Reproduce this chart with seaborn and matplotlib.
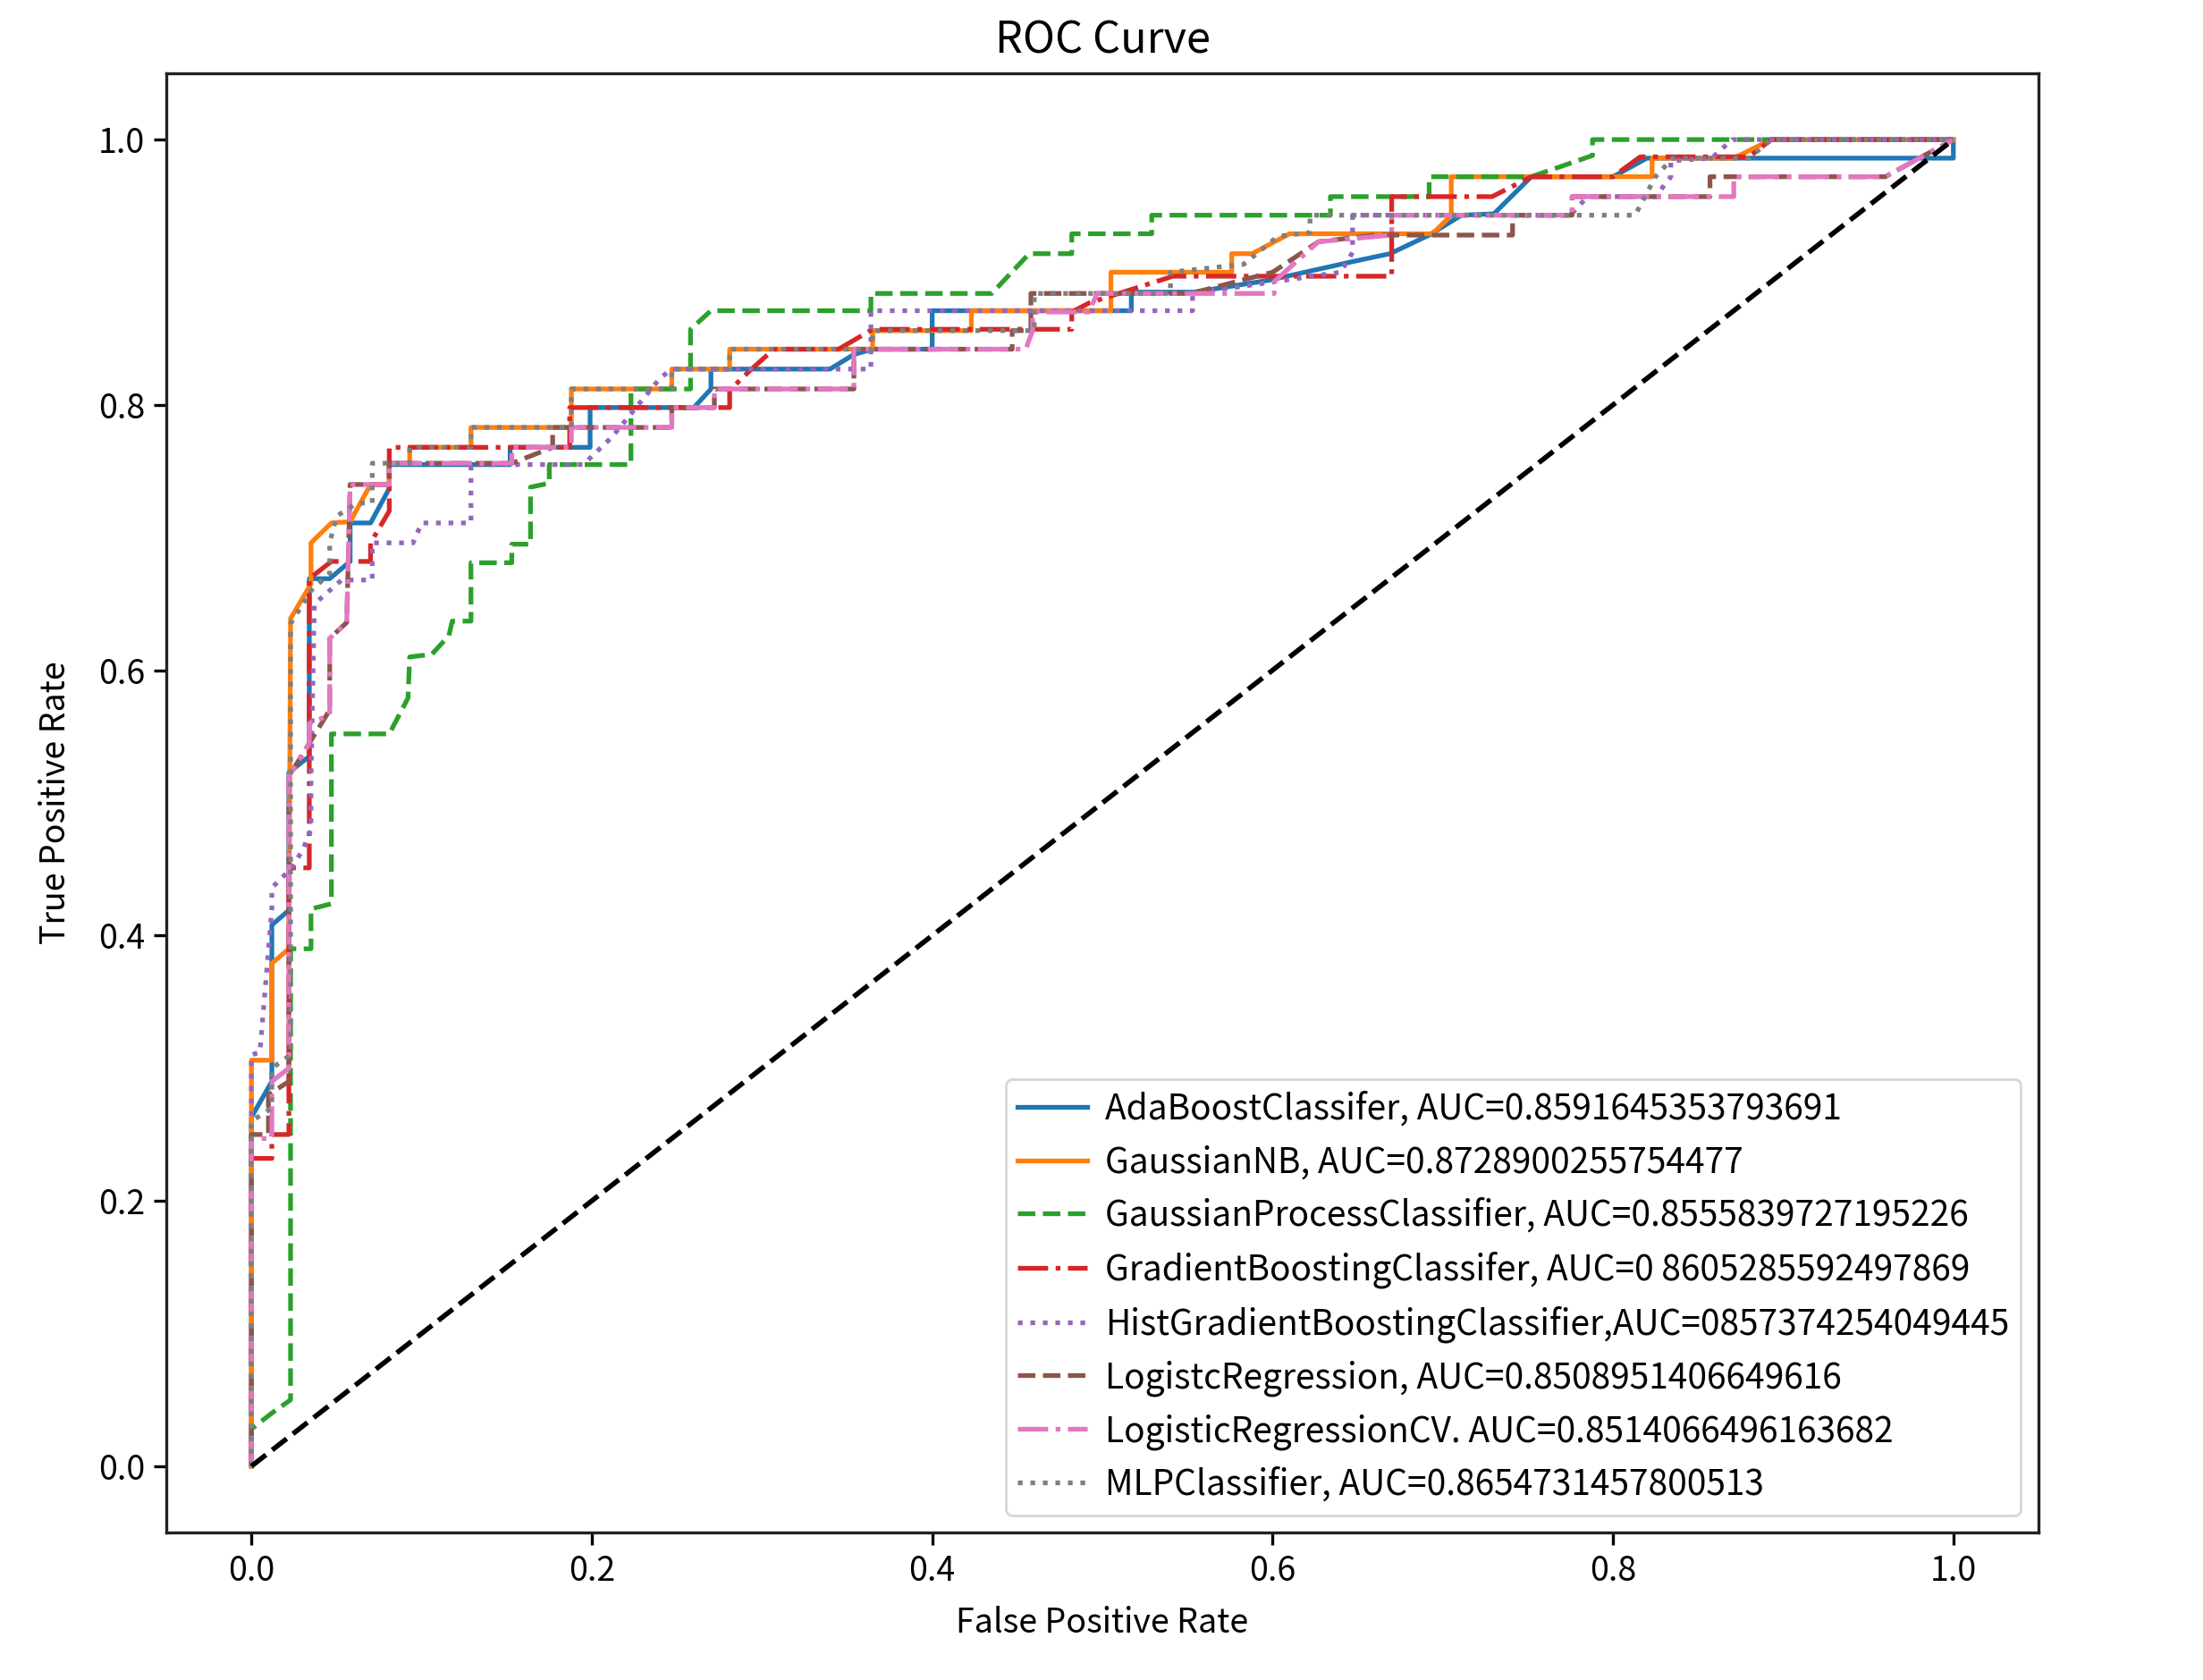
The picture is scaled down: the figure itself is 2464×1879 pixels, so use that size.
import pandas as pd
import matplotlib
matplotlib.use("Agg")
import matplotlib.pyplot as plt
import seaborn as sns

# ---------------- Data ----------------
ada_fpr = [0, 0, 0.012, 0.012, 0.022, 0.022, 0.034, 0.034, 0.046, 0.058, 0.058, 0.07, 0.081, 0.081,
           0.152, 0.152, 0.199, 0.199, 0.26, 0.27, 0.27, 0.34, 0.354, 0.365, 0.4, 0.4, 0.517, 0.517,
           0.554, 0.598, 0.647, 0.669, 0.692, 0.711, 0.73, 0.752, 0.8, 0.82, 1.0, 1.0]
ada_tpr = [0, 0.263, 0.29, 0.408, 0.419, 0.523, 0.535, 0.669, 0.669, 0.682, 0.711, 0.711, 0.737, 0.755,
           0.755, 0.768, 0.768, 0.798, 0.798, 0.812, 0.827, 0.827, 0.838, 0.842, 0.842, 0.871, 0.871, 0.885,
           0.885, 0.894, 0.908, 0.914, 0.928, 0.943, 0.944, 0.972, 0.972, 0.986, 0.986, 1.0]

gnb_fpr = [0, 0, 0.012, 0.012, 0.022, 0.023, 0.035, 0.035, 0.047, 0.058, 0.07, 0.081, 0.081, 0.093,
           0.093, 0.129, 0.129, 0.188, 0.188, 0.247, 0.247, 0.281, 0.281, 0.365, 0.365, 0.423, 0.423,
           0.505, 0.505, 0.576, 0.576, 0.588, 0.61, 0.694, 0.705, 0.705, 0.823, 0.823, 0.871, 0.893, 1.0]
gnb_tpr = [0, 0.306, 0.306, 0.379, 0.39, 0.639, 0.665, 0.696, 0.711, 0.712, 0.74, 0.74, 0.756, 0.756,
           0.768, 0.768, 0.783, 0.783, 0.812, 0.812, 0.827, 0.827, 0.842, 0.842, 0.856, 0.856, 0.871,
           0.871, 0.9, 0.9, 0.914, 0.914, 0.929, 0.929, 0.943, 0.972, 0.972, 0.986, 0.986, 1.0, 1.0]

gpc_fpr = [0, 0, 0.012, 0.023, 0.023, 0.035, 0.035, 0.047, 0.047, 0.081, 0.092, 0.093, 0.106, 0.116,
           0.118, 0.129, 0.129, 0.153, 0.153, 0.164, 0.164, 0.175, 0.175, 0.223, 0.223, 0.258, 0.258,
           0.27, 0.364, 0.364, 0.435, 0.457, 0.482, 0.482, 0.529, 0.529, 0.634, 0.634, 0.692, 0.692,
           0.752, 0.788, 0.788, 1.0]
gpc_tpr = [0, 0.028, 0.04, 0.05, 0.39, 0.39, 0.42, 0.424, 0.552, 0.552, 0.579, 0.61, 0.612, 0.626,
           0.637, 0.637, 0.681, 0.681, 0.695, 0.695, 0.738, 0.741, 0.755, 0.755, 0.812, 0.812, 0.857,
           0.871, 0.871, 0.884, 0.884, 0.914, 0.914, 0.929, 0.929, 0.943, 0.943, 0.957, 0.957, 0.972,
           0.972, 0.988, 1.0, 1.0]

gb_fpr = [0, 0, 0.012, 0.012, 0.022, 0.022, 0.034, 0.034, 0.047, 0.07, 0.07, 0.081, 0.081, 0.187,
          0.187, 0.281, 0.281, 0.293, 0.307, 0.345, 0.365, 0.482, 0.482, 0.4925, 0.5415, 0.67, 0.67,
          0.729, 0.752, 0.8, 0.816, 0.88, 0.893, 1.0]
gb_tpr = [0, 0.232, 0.232, 0.25, 0.25, 0.451, 0.451, 0.669, 0.682, 0.682, 0.696, 0.72, 0.768, 0.768,
          0.798, 0.798, 0.811, 0.826, 0.842, 0.842, 0.857, 0.857, 0.87, 0.877, 0.897, 0.897, 0.957,
          0.957, 0.972, 0.972, 0.987, 0.987, 1.0, 1.0]

hgb_fpr = [0, 0, 0.005, 0.012, 0.012, 0.023, 0.03, 0.035, 0.035, 0.037, 0.053, 0.071, 0.071, 0.095,
           0.1, 0.129, 0.129, 0.195, 0.212, 0.24, 0.247, 0.364, 0.364, 0.553, 0.553, 0.64, 0.647, 0.647,
           0.775, 0.785, 0.825, 0.834, 0.834, 0.858, 0.87, 1.0]
hgb_tpr = [0, 0.31, 0.312, 0.42, 0.436, 0.45, 0.464, 0.48, 0.52, 0.65, 0.668, 0.668, 0.696, 0.696,
           0.711, 0.711, 0.755, 0.755, 0.776, 0.82, 0.827, 0.827, 0.871, 0.871, 0.884, 0.9, 0.915, 0.943,
           0.943, 0.957, 0.957, 0.972, 0.984, 0.986, 1.0, 1.0]

lr_fpr = [0, 0, 0.01, 0.01, 0.022, 0.022, 0.034, 0.046, 0.046, 0.056, 0.058, 0.081, 0.081, 0.153,
          0.177, 0.177, 0.247, 0.247, 0.272, 0.272, 0.354, 0.354, 0.447, 0.447, 0.458, 0.458, 0.552,
          0.6, 0.627, 0.66, 0.741, 0.741, 0.776, 0.776, 0.857, 0.857, 0.96, 1.0]
lr_tpr = [0, 0.25, 0.25, 0.28, 0.29, 0.52, 0.545, 0.57, 0.624, 0.636, 0.74, 0.74, 0.756, 0.756,
          0.768, 0.783, 0.783, 0.798, 0.798, 0.812, 0.812, 0.842, 0.842, 0.856, 0.856, 0.884, 0.884,
          0.9, 0.923, 0.928, 0.928, 0.943, 0.943, 0.957, 0.957, 0.972, 0.972, 1.0]

lrcv_fpr = [0, 0, 0.012, 0.012, 0.022, 0.022, 0.034, 0.034, 0.046, 0.046, 0.056, 0.058, 0.081, 0.081,
            0.153, 0.153, 0.188, 0.188, 0.247, 0.247, 0.272, 0.272, 0.354, 0.354, 0.455, 0.459, 0.459,
            0.492, 0.497, 0.601, 0.601, 0.627, 0.67, 0.67, 0.776, 0.776, 0.871, 0.871, 0.96, 1.0]
lrcv_tpr = [0, 0.247, 0.247, 0.29, 0.30, 0.52, 0.545, 0.56, 0.566, 0.624, 0.636, 0.74, 0.74, 0.756,
            0.756, 0.768, 0.768, 0.783, 0.783, 0.798, 0.798, 0.812, 0.812, 0.842, 0.842, 0.856, 0.87,
            0.87, 0.884, 0.884, 0.893, 0.923, 0.928, 0.943, 0.943, 0.957, 0.957, 0.972, 0.972, 1.0]

mlp_fpr = [0, 0, 0.012, 0.012, 0.023, 0.023, 0.035, 0.046, 0.046, 0.05, 0.062, 0.071, 0.071, 0.093,
           0.093, 0.129, 0.129, 0.188, 0.188, 0.247, 0.247, 0.281, 0.281, 0.365, 0.365, 0.46, 0.46,
           0.54, 0.54, 0.583, 0.603, 0.622, 0.622, 0.813, 0.825, 0.835, 0.88, 0.893, 1.0]
mlp_tpr = [0, 0.26, 0.27, 0.3, 0.31, 0.635, 0.66, 0.673, 0.696, 0.716, 0.726, 0.726, 0.756, 0.756,
           0.768, 0.768, 0.783, 0.783, 0.812, 0.812, 0.827, 0.827, 0.842, 0.842, 0.856, 0.856, 0.884,
           0.884, 0.9, 0.906, 0.927, 0.93, 0.943, 0.943, 0.972, 0.986, 0.986, 1.0, 1.0]

labels = [
    "AdaBoostClassifer, AUC=0.8591645353793691",
    "GaussianNB, AUC=0.8728900255754477",
    "GaussianProcessClassifier, AUC=0.8555839727195226",
    "GradientBoostingClassifer, AUC=0 8605285592497869",
    "HistGradientBoostingClassifier,AUC=0857374254049445",
    "LogistcRegression, AUC=0.8508951406649616",
    "LogisticRegressionCV. AUC=0.8514066496163682",
    "MLPClassifier, AUC=0.8654731457800513",
]
curves = [(ada_fpr, ada_tpr), (gnb_fpr, gnb_tpr), (gpc_fpr, gpc_tpr), (gb_fpr, gb_tpr),
          (hgb_fpr, hgb_tpr), (lr_fpr, lr_tpr), (lrcv_fpr, lrcv_tpr), (mlp_fpr, mlp_tpr)]
styles = ["-", "-", "--", "-.", ":", "--", "-.", ":"]
colors = sns.color_palette("tab10", 8)

# ---------------- Plot ----------------
plt.rcParams["font.family"] = ["Noto Sans CJK SC", "DejaVu Sans"]
plt.rcParams["axes.edgecolor"] = "#222222"
plt.rcParams["axes.linewidth"] = 1.2
plt.rcParams["xtick.major.size"] = 5
plt.rcParams["ytick.major.size"] = 5
plt.rcParams["xtick.major.width"] = 1.2
plt.rcParams["ytick.major.width"] = 1.2

fig = plt.figure(figsize=(12.32, 9.395), dpi=200)
ax = fig.add_axes([0.0755, 0.0878, 0.8498, 0.8686])

for (fpr, tpr), lab, ls, col in zip(curves, labels, styles, colors):
    d = pd.DataFrame({"fpr": fpr, "tpr": tpr})
    sns.lineplot(data=d, x="fpr", y="tpr", sort=False, estimator=None, ax=ax,
                 color=col, linestyle=ls, linewidth=1.9, label=lab)

sns.lineplot(x=[0, 1], y=[0, 1], color="k", linestyle="--", linewidth=2.0, ax=ax)

ax.set_xticks([0.0, 0.2, 0.4, 0.6, 0.8, 1.0])
ax.set_yticks([0.0, 0.2, 0.4, 0.6, 0.8, 1.0])
ax.tick_params(labelsize=13.5)
ax.set_xlabel("False Positive Rate", fontsize=13.5, labelpad=7)
ax.set_ylabel("True Positive Rate", fontsize=13.5, labelpad=10)
ax.set_title("ROC Curve", fontsize=17.5, pad=8)
ax.legend(loc="lower right", fontsize=14, handletextpad=0.5, borderpad=0.35)

fig.savefig("out.png", dpi=200)
